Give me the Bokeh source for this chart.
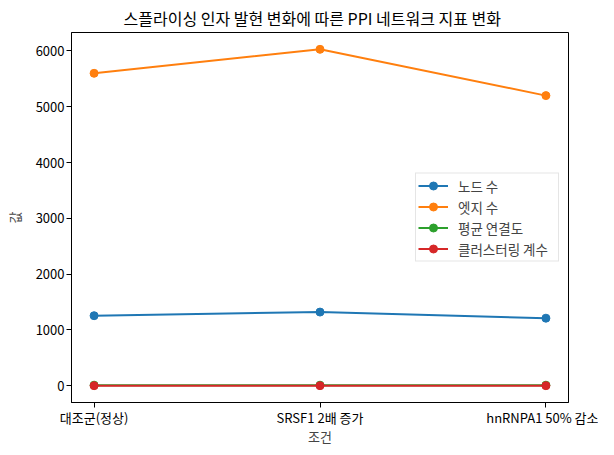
from bokeh.embed import file_html
from bokeh.models import FixedTicker, Legend, Range1d
from bokeh.plotting import figure
from bokeh.resources import INLINE

FONT = "Noto Sans CJK KR"

conditions = ["대조군(정상)", "SRSF1 2배 증가", "hnRNPA1 50% 감소"]
x_pos = [0, 1, 2]

node_count = [1255, 1320, 1210]
edge_count = [5600, 6030, 5200]
avg_degree = [8.9, 9.1, 8.6]
clustering = [0.32, 0.35, 0.29]

series = [
    ("노드 수", node_count, "#1f77b4"),
    ("엣지 수", edge_count, "#ff7f0e"),
    ("평균 연결도", avg_degree, "#2ca02c"),
    ("클러스터링 계수", clustering, "#d62728"),
]

all_vals = node_count + edge_count + avg_degree + clustering
lo, hi = min(all_vals), max(all_vals)
pad = (hi - lo) * 0.05

p = figure(
    frame_width=497,
    frame_height=370,
    output_backend="svg",
    toolbar_location=None,
    tools="",
    x_range=Range1d(-0.1, 2.1),
    y_range=Range1d(lo - pad, hi + pad),
    title="스플라이싱 인자 발현 변화에 따른 PPI 네트워크 지표 변화",
    x_axis_label="조건",
    y_axis_label="값",
    min_border_left=71,
    min_border_right=30,
    min_border_top=23,
    min_border_bottom=40,
)

items = []
for label, vals, color in series:
    ln = p.line(x_pos, vals, line_color=color, line_width=2)
    sc = p.scatter(x_pos, vals, size=8, fill_color=color, line_color=color)
    items.append((label, [ln, sc]))

legend = Legend(items=items, location="center_right")
legend.label_text_font = FONT
legend.label_text_font_size = "13.5px"
legend.border_line_color = "#cccccc"
legend.border_line_width = 1
legend.background_fill_alpha = 0.8
legend.margin = 9
legend.padding = 2
legend.spacing = 1
legend.glyph_width = 30
legend.label_height = 20
legend.glyph_height = 20
legend.label_standoff = 10
legend.label_width = 98
p.add_layout(legend)

p.title.text_font = FONT
p.title.text_font_size = "16px"
p.title.text_font_style = "normal"
p.title.align = "left"
p.title.offset = 52
p.title.text_color = "black"
p.title.standoff = 6

p.xaxis.ticker = FixedTicker(ticks=x_pos)
p.xaxis.major_label_overrides = {x: c for x, c in zip(x_pos, conditions)}
p.yaxis.ticker = FixedTicker(ticks=[0, 1000, 2000, 3000, 4000, 5000, 6000])

for ax in (p.xaxis, p.yaxis):
    ax.axis_label_text_font = FONT
    ax.axis_label_text_font_size = "13px"
    ax.axis_label_text_font_style = "normal"
    ax.major_label_text_font = FONT
    ax.major_label_text_font_size = "13px"
    ax.major_label_text_color = "black"
    ax.axis_line_color = "black"
    ax.major_tick_line_color = "black"
    ax.major_tick_out = 5
    ax.major_tick_in = 0
    ax.minor_tick_line_color = None

p.xaxis.major_label_standoff = 0
p.xaxis.axis_label_standoff = -3
p.yaxis.major_label_standoff = 2
p.yaxis.axis_label_standoff = 9

p.grid.grid_line_color = None
p.outline_line_color = "black"
p.outline_line_alpha = 1.0

open("out.html", "w").write(file_html(p, INLINE))
